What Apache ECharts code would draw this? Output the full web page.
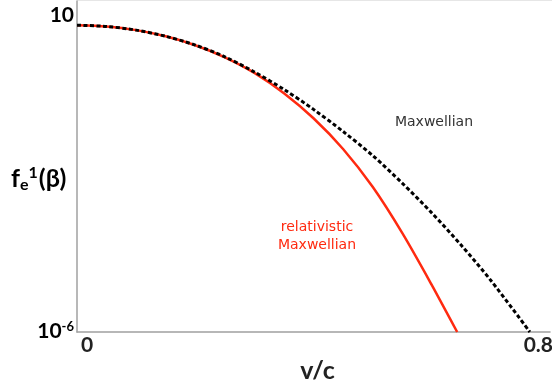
<!DOCTYPE html>
<html>
<head>
<meta charset="utf-8">
<script src="https://cdn.jsdelivr.net/npm/echarts@6/dist/echarts.min.js"></script>
<style>
html,body{margin:0;padding:0;background:#fff;}
#chart{width:552px;height:388px;}
</style>
</head>
<body>
<div id="chart"></div>
<script>
// Data
const maxwellBeta = [0, 0.05, 0.10, 0.15, 0.20, 0.25, 0.30, 0.35, 0.40, 0.45, 0.50, 0.55, 0.60, 0.65, 0.70, 0.766];
const maxwellVals = [3.08, 2.89, 2.42, 1.79, 1.17, 0.66, 0.316, 0.135, 0.051, 0.0174, 5.4e-3, 1.41e-3, 3.3e-4, 6.8e-5, 1.23e-5, 1.0e-6];
const relBeta = [0, 0.05, 0.10, 0.15, 0.20, 0.25, 0.30, 0.35, 0.40, 0.45, 0.50, 0.55, 0.60, 0.643];
const relVals = [3.08, 2.89, 2.42, 1.79, 1.16, 0.646, 0.302, 0.1122, 0.0331, 7.41e-3, 1.175e-3, 1.245e-4, 9.9e-6, 1.0e-6];
const xTicks = [0, 0.8];
const xTickLabels = ['0', '0.8'];
const yTicks = [10, 1e-6];
const yTickLabels = [['10', ''], ['10', '-6']];
const xName = 'v/c';

const chart = echarts.init(document.getElementById('chart'));
const font = '"Lato", "DejaVu Sans", sans-serif';
const ann = '"DejaVu Sans", sans-serif';

chart.setOption({
  animation: false,
  grid: {left: 77, right: 2, top: 1, bottom: 45},
  xAxis: {
    type: 'value', min: 0, max: 0.8, interval: 0.8,
    axisLine: {show: true, lineStyle: {color: '#a0a0a0', width: 1.5}},
    axisTick: {show: false},
    splitLine: {show: false},
    axisLabel: {show: false},
    name: xName, nameLocation: 'middle', nameGap: 26,
    nameTextStyle: {fontFamily: font, fontWeight: 'bold', fontSize: 25, color: '#222', padding: [0, 0, 0, 8]}
  },
  yAxis: {
    type: 'log', logBase: 10, min: 1e-6, max: 10,
    axisLine: {show: true, lineStyle: {color: '#a0a0a0', width: 1.5}},
    axisTick: {show: false},
    splitLine: {show: false},
    axisLabel: {show: false}
  },
  series: [
    {
      type: 'line', name: 'relativistic Maxwellian', smooth: 0.3, symbol: 'none',
      data: relBeta.map((b, i) => [b, relVals[i]]),
      lineStyle: {color: '#ff2a10', width: 2.5}, z: 2
    },
    {
      type: 'line', name: 'Maxwellian', smooth: 0.3, symbol: 'none',
      data: maxwellBeta.map((b, i) => [b, maxwellVals[i]]),
      lineStyle: {color: '#000', width: 3, type: [4, 2.5]}, z: 3
    }
  ]
});

// Tick labels placed from the axes' own scales
const tickStyle = {fontFamily: font, fontWeight: 'bold', fontSize: 21, color: '#222'};
const g = [
  {type: 'line', shape: {x1: 77, y1: 0.5, x2: 552, y2: 0.5}, style: {stroke: '#e6e6e6', lineWidth: 1}, silent: true}
];
xTicks.forEach((v, i) => {
  const px = chart.convertToPixel({xAxisIndex: 0}, v);
  const py = chart.convertToPixel({yAxisIndex: 0}, 1e-6);
  g.push({type: 'text', x: i === 0 ? px + 4 : px + 3, y: py + 13,
    style: {text: xTickLabels[i], align: i === 0 ? 'left' : 'right', verticalAlign: 'middle',
      font: 'bold 21px ' + font, fill: '#222'}});
});
yTicks.forEach((v, i) => {
  const py = chart.convertToPixel({yAxisIndex: 0}, v);
  const px = chart.convertToPixel({xAxisIndex: 0}, 0);
  const [base, sup] = yTickLabels[i];
  g.push({type: 'text', x: px - 3, y: i === 0 ? py + 14 : py - 1,
    style: {text: sup ? '{b|' + base + '}{s|' + sup + '}' : '{b|' + base + '}', align: 'right', verticalAlign: 'middle',
      rich: {
        b: tickStyle,
        s: {fontFamily: font, fontWeight: 'bold', fontSize: 13, color: '#222', padding: [0, 0, 9, 0]}
      }}});
});
g.push({type: 'text', left: 11, top: 165, style: {text: '{a|f}{e|e}{o|1}{a|(β)}', rich: {
  a: {fontFamily: font, fontWeight: 'bold', fontSize: 25, color: '#222'},
  e: {fontFamily: font, fontWeight: 'bold', fontSize: 16, color: '#222', padding: [13, 0, 0, 0]},
  o: {fontFamily: font, fontWeight: 'bold', fontSize: 16, color: '#222', padding: [0, 1, 11, 0]}
}}});
g.push({type: 'text', x: 434, y: 122, style: {text: 'Maxwellian', align: 'center', verticalAlign: 'middle', font: '14px ' + ann, fill: '#333'}});
g.push({type: 'text', x: 317, y: 236, style: {text: 'relativistic\nMaxwellian', align: 'center', verticalAlign: 'middle', font: '14px ' + ann, lineHeight: 18, fill: '#ff2a10'}});
chart.setOption({graphic: g});
</script>
</body>
</html>
